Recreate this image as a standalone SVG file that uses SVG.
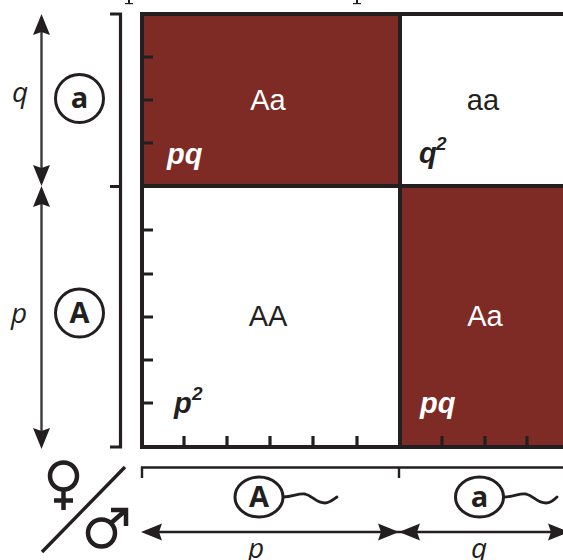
<svg xmlns="http://www.w3.org/2000/svg" width="563" height="560" viewBox="0 0 563 560">
<defs>
<style>
.k{stroke:#231f20;fill:none}
.fr{stroke-width:4}
.t{stroke-width:3.200}
.th{stroke-width:2.400}
.ar{stroke:#3c3a3b;stroke-width:2.400;fill:none}
.c{stroke:#231f20;stroke-width:3;fill:#fff}
.h{fill:#231f20;stroke:none}
.g{font-family:"Liberation Sans",Arial,sans-serif;font-size:29px;text-anchor:middle}
.b{font-family:"Liberation Sans",Arial,sans-serif;font-size:29px;font-weight:bold;font-style:italic}
.s{font-family:"Liberation Sans",Arial,sans-serif;font-size:19px;font-weight:bold;font-style:italic}
.i{font-family:"Open Sans","Liberation Sans",sans-serif;font-size:28px;font-style:italic;fill:#231f20;text-anchor:middle}
.m{font-family:"Open Sans","Liberation Sans",sans-serif;font-size:29px;font-weight:bold;fill:#231f20;text-anchor:middle}
</style>
<path id="ah" d="M0 0L8.500 21L0 18L-8.500 21Z"/>
</defs>
<g id="cut-marks"><rect x="128" y="0" width="2" height="3" fill="#231f20"/><rect x="125" y="3" width="8" height="1.200" fill="#231f20"/><rect x="356" y="0" width="2" height="3" fill="#231f20"/><rect x="353" y="3" width="8" height="1.200" fill="#231f20"/></g>
<g id="cell-Aa-top"><rect x="142" y="14" width="258" height="172" fill="#7d2b24"/><text class="g" x="268" y="110" fill="#fff">Aa</text><text class="b" x="167" y="164" fill="#fff">pq</text></g>
<g id="cell-aa"><rect x="400" y="14" width="163" height="172" fill="#fff"/><text class="g" x="483" y="110" fill="#231f20">aa</text><text class="b" x="419" y="163" fill="#231f20">q</text><text class="s" x="436" y="150" fill="#231f20">2</text></g>
<g id="cell-AA"><rect x="142" y="186" width="258" height="261" fill="#fff"/><text class="g" x="268" y="326" fill="#231f20">AA</text><text class="b" x="174" y="413" fill="#231f20">p</text><text class="s" x="192" y="400" fill="#231f20">2</text></g>
<g id="cell-Aa-bottom"><rect x="400" y="186" width="163" height="261" fill="#7d2b24"/><text class="g" x="485" y="326" fill="#fff">Aa</text><text class="b" x="420" y="413" fill="#fff">pq</text></g>
<g id="connectors">
<path class="k fr" d="M563 14H142V447H563M400 14V447M142 186H563"/>
<path class="k t" d="M142 57H153M142 100H153M142 143H153M142 230H153M142 274H153M142 317H153M142 360H153M142 403H153M184 447V436M227 447V436M270 447V436M313 447V436M357 447V436M442 447V436M485 447V436M527 447V436"/>
<path class="k t" d="M110 14H120.500V447H110M110 186.500H120.500"/>
<path class="k th" d="M563 467.500H142V478M399 467.500V478"/>
<path class="ar" d="M41.500 25V175M41.500 197V438"/>
<use href="#ah" class="h" x="41.500" y="14"/><use href="#ah" class="h" transform="translate(41.500 186) rotate(180)"/><use href="#ah" class="h" x="41.500" y="186"/><use href="#ah" class="h" transform="translate(41.500 449) rotate(180)"/>
<path class="k th" d="M150 532H555"/>
<use href="#ah" class="h" transform="translate(141 532) rotate(-90)"/><use href="#ah" class="h" transform="translate(399 532) rotate(90)"/><use href="#ah" class="h" transform="translate(399 532) rotate(-90)"/><use href="#ah" class="h" transform="translate(569 532) rotate(90)"/>
<path class="k" stroke-width="2.800" stroke-linecap="round" d="M283 497C293 497 298 493 305 494C313 496 316 503 325 503C330 503 334 499 337 497"/>
<path class="k" stroke-width="2.800" stroke-linecap="round" d="M504 497C514 497 519 493 526 494C534 496 537 503 546 503C551 503 555 499 557 497"/>
<path class="k" stroke-width="3.400" d="M125 467L42 552"/>
</g>
<g id="label-q"><text class="i" x="20" y="102">q</text></g>
<g id="label-p"><text class="i" x="19" y="323">p</text></g>
<g id="allele-a-left"><circle class="c" cx="79.500" cy="98.500" r="24"/><text class="m" x="79.500" y="108">a</text></g>
<g id="allele-A-left"><circle class="c" cx="79.500" cy="313" r="24"/><text class="m" x="79.500" y="323">A</text></g>
<g id="allele-A-bottom"><ellipse class="c" cx="259" cy="497" rx="24" ry="20"/><text class="m" x="259" y="507">A</text></g>
<g id="allele-a-bottom"><ellipse class="c" cx="479.500" cy="497" rx="24" ry="20"/><text class="m" x="479.500" y="507">a</text></g>
<g id="label-p-bottom"><text class="i" x="256" y="558">p</text></g>
<g id="label-q-bottom"><text class="i" x="479" y="558">q</text></g>
<g id="female"><circle class="k" stroke-width="4.500" cx="63.500" cy="476" r="13.500"/><path class="k" stroke-width="4.500" d="M63.500 490V510M54 500.500H73"/></g>
<g id="male"><circle class="k" stroke-width="4.500" cx="101.500" cy="533" r="13.500"/><path class="k" stroke-width="4.500" d="M111 523L126 510M111 510H126V526"/></g>
</svg>
